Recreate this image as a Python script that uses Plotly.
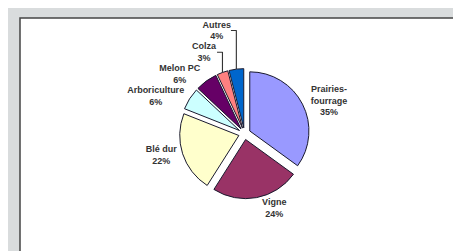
import plotly.graph_objects as go

labels = ["Prairies-<br>fourrage", "Vigne", "Blé dur", "Arboriculture", "Melon PC", "Colza", "Autres"]
values = [35, 24, 22, 6, 6, 3, 4]
colors = ["#9999FF", "#993366", "#FFFFCC", "#CCFFFF", "#660066", "#FF8080", "#0066CC"]

fig = go.Figure()
fig.add_trace(go.Pie(
    labels=labels,
    values=values,
    sort=False,
    direction="clockwise",
    rotation=0,
    marker=dict(colors=colors, line=dict(color="#1a1a2e", width=1)),
    pull=[0.1] * len(values),
    textposition="outside",
    texttemplate="<b>%{label}<br>%{value}%</b>",
    textfont=dict(family="Liberation Sans, Arial, sans-serif", size=9, color="#333333"),
    showlegend=False,
    hoverinfo="label+percent",
    automargin=False,
    domain=dict(x=[0.28, 0.72], y=[0.25, 0.79]),
))

fig.add_shape(type="rect", xref="paper", yref="paper", x0=0, y0=0, x1=1.02, y1=1,
              fillcolor="white", line=dict(color="#444444", width=1.5), layer="below")

fig.update_layout(
    width=461, height=251,
    margin=dict(l=12, t=10, r=0, b=0, autoexpand=False),
    paper_bgcolor="#d9dcdd",
    plot_bgcolor="white",
)

fig.write_html("out.html")
